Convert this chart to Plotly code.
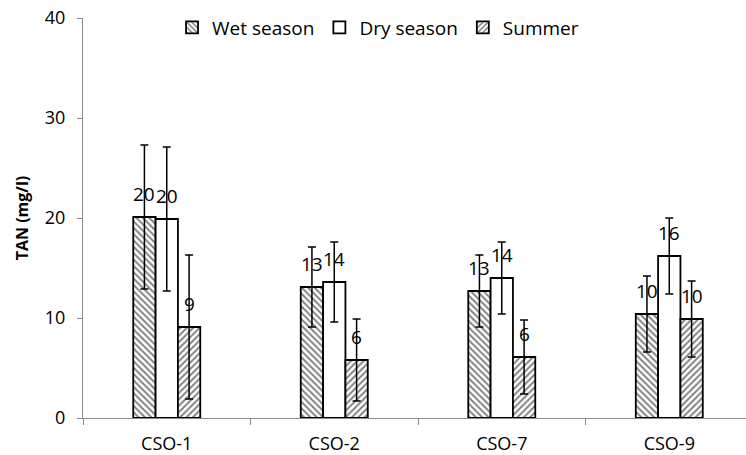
import plotly.graph_objects as go

# Total ammonia nitrogen at each CSO outfall, by sampling season
sites = ["CSO-1", "CSO-2", "CSO-7", "CSO-9"]
seasons = ["Wet season", "Dry season", "Summer"]

wet_mean = [20.1, 13.1, 12.7, 10.4]
dry_mean = [19.9, 13.6, 14.0, 16.2]
summer_mean = [9.1, 5.8, 6.1, 9.9]

wet_err = [7.2, 4.0, 3.6, 3.8]
dry_err = [7.2, 4.0, 3.6, 3.8]
summer_err = [7.2, 4.1, 3.7, 3.8]

y_ticks = [0, 10, 20, 30, 40]

means = [wet_mean, dry_mean, summer_mean]
errs = [wet_err, dry_err, summer_err]
patterns = ["\\", "", "/"]

FONT = "Open Sans"
AXIS_GREY = "#8a8a8a"
BARGAP = 0.6
bar_w = (1 - BARGAP) / len(seasons)

fig = go.Figure()
for name, vals, err, shape in zip(seasons, means, errs, patterns):
    fig.add_trace(go.Bar(
        name=name,
        x=sites,
        y=vals,
        marker=dict(
            color="white",
            line=dict(color="black", width=1.8),
            pattern=dict(shape=shape, fgcolor="black", bgcolor="white",
                         size=4.5, solidity=0.42),
        ),
        error_y=dict(type="data", array=err, visible=True,
                     color="black", thickness=1.5, width=4),
    ))

# value labels above each bar
for i, vals in enumerate(means):
    offset = (i - (len(seasons) - 1) / 2) * bar_w
    for j, v in enumerate(vals):
        fig.add_annotation(
            x=j + offset, y=v, xref="x", yref="y",
            text=f"{v:.0f}", showarrow=False,
            yanchor="middle", yshift=23,
            font=dict(family=FONT, size=19, color="black"),
        )

fig.update_layout(
    width=746, height=455,
    margin=dict(l=83, r=0, t=18, b=37),
    paper_bgcolor="white", plot_bgcolor="white",
    barmode="group", bargap=BARGAP, bargroupgap=0,
    font=dict(family=FONT, size=17, color="black"),
    showlegend=True,
    legend=dict(
        orientation="h", x=0.445, xanchor="center",
        y=0.976, yanchor="middle",
        font=dict(family=FONT, size=19, color="black"),
        bgcolor="rgba(0,0,0,0)", itemwidth=30,
    ),
)

fig.update_xaxes(
    type="category", range=[-0.5, 3.458], automargin=False,
    showline=True, linecolor=AXIS_GREY, linewidth=1,
    ticks="outside", tickson="boundaries", ticklen=6,
    tickcolor=AXIS_GREY, tickwidth=1,
    ticklabelstandoff=9,
    showgrid=False, zeroline=False,
    tickfont=dict(family=FONT, size=18, color="black"),
)

fig.update_yaxes(
    range=[0, 40], tickvals=y_ticks, automargin=False,
    showline=True, linecolor=AXIS_GREY, linewidth=1,
    ticks="outside", ticklen=5, tickcolor=AXIS_GREY, tickwidth=1,
    ticklabelstandoff=8,
    showgrid=False, zeroline=False,
    tickfont=dict(family=FONT, size=18, color="black"),
    title=dict(text="<b>TAN (mg/l)</b>", standoff=12,
               font=dict(family=FONT, size=16, color="black")),
)

fig.write_html("out.html")
